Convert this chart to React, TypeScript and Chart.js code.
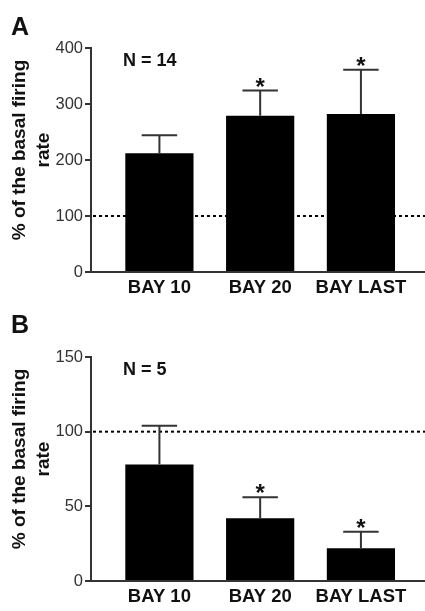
import { useEffect, useRef } from 'react';
import { Chart, registerables } from 'chart.js';

Chart.register(...registerables);

const categories = ['BAY 10', 'BAY 20', 'BAY LAST'];

const valuesA = [212, 279, 282];
const errorsA = [32, 45, 79];
const significantA = [false, true, true];
const yMaxA = 400;
const yStepA = 100;

const valuesB = [78, 42, 22];
const errorsB = [26, 14, 11];
const significantB = [false, true, true];
const yMaxB = 150;
const yStepB = 50;

const referenceValue = 100;
const yTitle = ['% of the basal firing', 'rate'];
const nLabelA = 'N = 14';
const nLabelB = 'N = 5';

const FONT = '"Liberation Sans", Arial, Helvetica, sans-serif';

type PanelProps = {
  letter: string;
  letterBaseline: number;
  values: number[];
  errors: number[];
  significant: boolean[];
  yMax: number;
  yStep: number;
  nLabel: string;
  top: number;
};

function Panel(p: PanelProps) {
  const ref = useRef<HTMLCanvasElement | null>(null);
  useEffect(() => {
    if (!ref.current) return;
    const extras = {
      id: 'extras',
      beforeDatasetsDraw(chart: any) {
        const { ctx, chartArea, scales } = chart;
        const py = scales.y.getPixelForValue(referenceValue);
        ctx.save();
        ctx.strokeStyle = '#000';
        ctx.lineWidth = 2;
        ctx.setLineDash([3, 3]);
        ctx.beginPath();
        ctx.moveTo(chartArea.left + 2, py);
        ctx.lineTo(chartArea.right, py);
        ctx.stroke();
        ctx.restore();
      },
      afterDatasetsDraw(chart: any) {
        const { ctx, chartArea, scales } = chart;
        const meta = chart.getDatasetMeta(0);
        ctx.save();
        meta.data.forEach((bar: any, i: number) => {
          const { x, y, width } = bar.getProps(['x', 'y', 'width'], true);
          const ey = scales.y.getPixelForValue(p.values[i] + p.errors[i]);
          const half = width * 0.26;
          ctx.strokeStyle = '#333';
          ctx.lineWidth = 2;
          ctx.beginPath();
          ctx.moveTo(x, y);
          ctx.lineTo(x, ey);
          ctx.moveTo(x - half, ey);
          ctx.lineTo(x + half, ey);
          ctx.stroke();
          if (p.significant[i]) {
            ctx.fillStyle = '#111';
            ctx.font = `bold 24px ${FONT}`;
            ctx.textAlign = 'center';
            ctx.textBaseline = 'alphabetic';
            ctx.fillText('*', x, ey + 4);
          }
        });
        ctx.fillStyle = '#111';
        ctx.font = `bold 18px ${FONT}`;
        ctx.textAlign = 'left';
        ctx.textBaseline = 'alphabetic';
        ctx.fillText(p.nLabel, chartArea.left + 32, chartArea.top + 18);
        ctx.font = `bold 25px ${FONT}`;
        ctx.fillText(p.letter, 11, p.letterBaseline);
        // y-axis title (two lines, rotated)
        const cy = (chartArea.top + chartArea.bottom) / 2 - 10;
        ctx.font = `bold 19px ${FONT}`;
        ctx.textAlign = 'center';
        ctx.textBaseline = 'middle';
        yTitle.forEach((line, k) => {
          ctx.save();
          ctx.translate(20 + k * 24, cy);
          ctx.rotate(-Math.PI / 2);
          ctx.fillText(line, 0, 0);
          ctx.restore();
        });
        ctx.restore();
      },
    };
    const chart = new Chart(ref.current, {
      type: 'bar',
      data: {
        datasets: [
          {
            data: p.values.map((v, i) => ({ x: i, y: v })),
            backgroundColor: '#000',
            borderWidth: 0,
            barPercentage: 0.677,
            categoryPercentage: 1,
          },
        ],
      },
      options: {
        animation: false,
        responsive: false,
        devicePixelRatio: 1,
        layout: { padding: { top: 48, right: 0, bottom: 0, left: 0 } },
        plugins: { legend: { display: false }, tooltip: { enabled: false } },
        scales: {
          x: {
            type: 'linear',
            offset: false,
            min: -0.679,
            max: 2.636,
            afterBuildTicks: (s: any) => {
              s.ticks = categories.map((_, i) => ({ value: i }));
            },
            afterFit: (s: any) => {
              s.height = 30;
            },
            ticks: {
              callback: (v: any) => categories[v as number] ?? '',
              font: { family: FONT, size: 18.5, weight: 'bold' },
              color: '#111',
              padding: 5,
              maxRotation: 0,
              autoSkip: false,
            },
            grid: { display: false, drawTicks: false, offset: false },
            border: { color: '#333', width: 2 },
          },
          y: {
            min: 0,
            max: p.yMax,
            afterFit: (s: any) => {
              s.width = 91;
            },
            ticks: {
              stepSize: p.yStep,
              font: { family: FONT, size: 16.5 },
              color: '#333',
              padding: 2,
            },
            grid: { drawOnChartArea: false, drawTicks: true, tickLength: 6, color: '#333', lineWidth: 2 },
            border: { color: '#333', width: 2 },
          },
        },
      },
      plugins: [extras],
    } as any);
    return () => chart.destroy();
  }, []);
  return (
    <div style={{ position: 'absolute', left: 0, top: p.top, width: 425, height: 302 }}>
      <canvas ref={ref} width={425} height={302} style={{ width: 425, height: 302, display: 'block' }} />
    </div>
  );
}

export default function App() {
  return (
    <div style={{ position: 'fixed', left: 0, top: 0, width: 425, height: 611, background: '#fff', overflow: 'hidden' }}>
      <Panel
        letter="A"
        letterBaseline={35}
        values={valuesA}
        errors={errorsA}
        significant={significantA}
        yMax={yMaxA}
        yStep={yStepA}
        nLabel={nLabelA}
        top={0}
      />
      <Panel
        letter="B"
        letterBaseline={24}
        values={valuesB}
        errors={errorsB}
        significant={significantB}
        yMax={yMaxB}
        yStep={yStepB}
        nLabel={nLabelB}
        top={309}
      />
    </div>
  );
}
